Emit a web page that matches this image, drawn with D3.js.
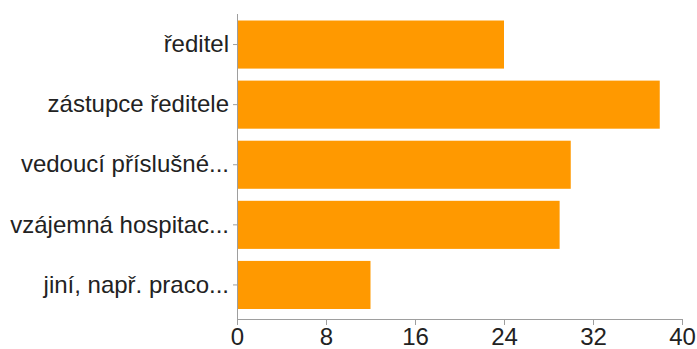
<!DOCTYPE html>
<html>
<head>
<meta charset="utf-8">
<script src="https://cdn.jsdelivr.net/npm/d3@7"></script>
<style>
  body { margin: 0; background: #fff; }
  svg { display: block; font-family: "Liberation Sans", Arial, Helvetica, sans-serif; }
  .axis text { fill: #222; font-size: 24px; }
  .axis line, .axis path { stroke: #9e9e9e; }
</style>
</head>
<body>
<svg width="697" height="349"></svg>
<script>
// categories and counts
const categories = ["ředitel", "zástupce ředitele", "vedoucí příslušné...", "vzájemná hospitac...", "jiní, např. praco..."];
const values = [24, 38, 30, 29, 12];
const xTicks = [0, 8, 16, 24, 32, 40];

const svg = d3.select("svg");

const x = d3.scaleLinear().domain([0, 40]).range([237, 682]);
const y = d3.scaleBand().domain(categories).range([14.5, 315])
    .paddingInner(0.2).paddingOuter(0.1);

// bars
svg.selectAll(".bar")
    .data(categories)
  .enter().append("rect")
    .attr("class", "bar")
    .attr("x", x(0) + 1)
    .attr("y", d => y(d))
    .attr("width", (d, i) => x(values[i]) - x(0) - 1)
    .attr("height", y.bandwidth())
    .attr("fill", "#ff9900");

// y axis
const yAxis = svg.append("g")
    .attr("class", "axis")
    .attr("transform", "translate(" + x(0) + ",0)")
    .call(d3.axisLeft(y).tickSize(4).tickPadding(4).tickSizeOuter(0));
yAxis.select(".domain").remove();
yAxis.append("line")
    .attr("x1", 0.5).attr("x2", 0.5)
    .attr("y1", 14).attr("y2", 319);

// x axis
const xAxis = svg.append("g")
    .attr("class", "axis")
    .attr("transform", "translate(0,319)")
    .call(d3.axisBottom(x).tickValues(xTicks).tickSize(6).tickPadding(3).tickSizeOuter(0));
</script>
</body>
</html>
